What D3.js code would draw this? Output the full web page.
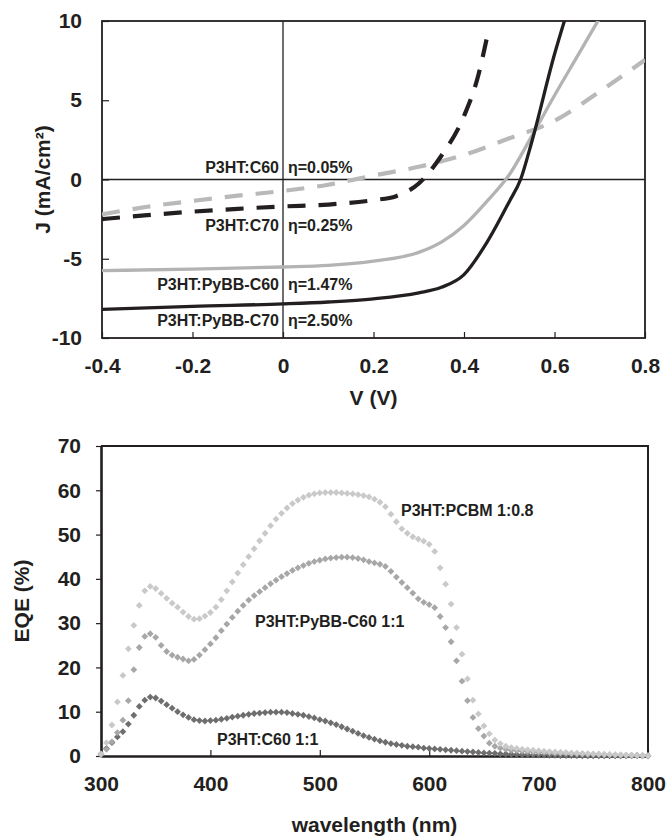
<!DOCTYPE html>
<html>
<head>
<meta charset="utf-8">
<script src="https://cdn.jsdelivr.net/npm/d3@7"></script>
<style>
  html, body { margin: 0; padding: 0; background: #fff; }
  svg text { font-family: "Liberation Sans", Arial, Helvetica, sans-serif; font-weight: bold; fill: #231f20; }
</style>
</head>
<body>
<svg id="fig" width="669" height="838"></svg>
<script>
// ---------- J–V curves (V in volts, J in mA/cm²) ----------
const vC60      = [-0.4, -0.3, -0.2, -0.1, 0, 0.1, 0.2, 0.3, 0.4, 0.5, 0.6, 0.7, 0.8];
const jC60      = [-2.2, -1.72, -1.35, -1.02, -0.72, -0.33, 0.25, 0.8, 1.55, 2.6, 3.7, 5.55, 7.55];

const vC70      = [-0.4, -0.3, -0.2, -0.1, 0, 0.1, 0.2, 0.25, 0.3, 0.35, 0.4, 0.43, 0.454];
const jC70      = [-2.5, -2.25, -2.03, -1.85, -1.7, -1.58, -1.3, -1.05, -0.25, 1.5, 4.0, 6.4, 9.4];

const vPyBBC60  = [-0.4, -0.2, 0, 0.1, 0.2, 0.3, 0.35, 0.4, 0.45, 0.5, 0.55, 0.6, 0.65, 0.7];
const jPyBBC60  = [-5.75, -5.65, -5.52, -5.42, -5.15, -4.6, -3.95, -2.9, -1.4, 0.3, 2.75, 5.3, 7.75, 10.2];

const vPyBBC70  = [-0.4, -0.2, 0, 0.1, 0.2, 0.3, 0.35, 0.4, 0.45, 0.5, 0.525, 0.55, 0.6, 0.625];
const jPyBBC70  = [-8.2, -8.0, -7.85, -7.73, -7.53, -7.15, -6.8, -6.0, -4.0, -1.4, 0.0, 2.4, 7.9, 10.3];

const jvLabels  = ["P3HT:C60", "P3HT:C70", "P3HT:PyBB-C60", "P3HT:PyBB-C70"];
const jvEta     = ["η=0.05%", "η=0.25%", "η=1.47%", "η=2.50%"];

const vTicks    = [-0.4, -0.2, 0, 0.2, 0.4, 0.6, 0.8];
const jTicks    = [-10, -5, 0, 5, 10];

// ---------- EQE spectra (wavelength in nm, EQE in %) ----------
const wavelength = [
  300,305,310,315,320,325,330,335,340,345,
  350,355,360,365,370,375,380,385,390,395,
  400,405,410,415,420,425,430,435,440,445,
  450,455,460,465,470,475,480,485,490,495,
  500,505,510,515,520,525,530,535,540,545,
  550,555,560,565,570,575,580,585,590,595,
  600,605,610,615,620,625,630,635,640,645,
  650,655,660,665,670,675,680,685,690,695,
  700,705,710,715,720,725,730,735,740,745,
  750,755,760,765,770,775,780,785,790,795,800
];

const eqePCBM = [
  0.5, 3.0, 7.0, 12.2, 18.2, 24.2, 29.5, 34.0, 37.3, 38.3,
  37.8, 36.7, 35.6, 34.5, 33.6, 32.5, 31.5, 30.9, 31.0, 31.6,
  32.4, 33.6, 35.3, 37.3, 39.3, 41.3, 43.2, 45.0, 46.8, 48.6,
  50.3, 52.0, 53.5, 54.8, 56.0, 57.0, 57.8, 58.4, 58.9, 59.2,
  59.4, 59.5, 59.5, 59.5, 59.4, 59.3, 59.2, 59.0, 58.8, 58.5,
  58.0, 57.3, 56.3, 54.6, 52.9, 51.3, 50.3, 49.5, 49.0, 48.5,
  47.8, 46.2, 42.5, 38.8, 34.3, 29.0, 23.0, 17.4, 12.6, 9.5,
  6.8, 5.0, 3.6, 2.8, 2.2, 1.9, 1.7, 1.55, 1.4, 1.3,
  1.2, 1.1, 1.0, 0.9, 0.85, 0.8, 0.7, 0.65, 0.6, 0.55,
  0.5, 0.45, 0.4, 0.35, 0.3, 0.25, 0.2, 0.15, 0.1, 0.1, 0.05
];

const eqePyBBC60 = [
  0.3, 1.5, 3.2, 5.3, 8.1, 12.5, 19.5, 24.5, 27.0, 27.6,
  26.8, 25.0, 23.6, 22.8, 22.3, 21.9, 21.5, 21.8, 22.8, 24.0,
  25.3, 26.7, 28.3, 29.8, 31.3, 32.7, 34.0, 35.2, 36.2, 37.1,
  38.0, 38.9, 39.7, 40.5, 41.2, 41.9, 42.5, 43.0, 43.5, 43.9,
  44.2, 44.5, 44.7, 44.8, 44.9, 44.9, 44.8, 44.6, 44.3, 43.9,
  43.6, 43.3, 42.8, 41.7, 40.4, 39.2, 38.0, 36.8, 35.5, 34.7,
  34.2, 33.5, 31.5, 29.0, 25.8, 21.5, 16.9, 12.5, 8.7, 6.2,
  4.5, 2.9, 2.2, 1.8, 1.5, 1.3, 1.2, 1.1, 1.0, 0.9,
  0.85, 0.8, 0.75, 0.7, 0.65, 0.6, 0.55, 0.5, 0.45, 0.4,
  0.38, 0.35, 0.32, 0.3, 0.27, 0.25, 0.22, 0.2, 0.18, 0.15, 0.12
];

const eqeC60 = [
  0.5, 1.7, 3.0, 4.3, 5.5, 7.2, 9.2, 11.2, 12.6, 13.3,
  13.1, 12.4, 11.6, 10.8, 10.0, 9.3, 8.7, 8.2, 8.0, 7.9,
  8.0, 8.1, 8.3, 8.5, 8.8, 9.0, 9.2, 9.4, 9.6, 9.7,
  9.8, 9.9, 9.9, 9.9, 9.8, 9.6, 9.4, 9.2, 8.9, 8.6,
  8.2, 7.9, 7.5, 7.1, 6.6, 6.1, 5.6, 5.1, 4.6, 4.2,
  3.8, 3.4, 3.1, 2.8, 2.6, 2.4, 2.2, 2.1, 2.0, 1.8,
  1.7, 1.6, 1.5, 1.4, 1.3, 1.2, 1.1, 1.0, 0.9, 0.8,
  0.7, 0.65, 0.6, 0.5, 0.45, 0.4, 0.35, 0.3, 0.3, 0.25,
  0.2, 0.2, 0.15, 0.15, 0.1, 0.1, 0.1, 0.08, 0.06, 0.05,
  0.05, 0.04, 0.03, 0.03, 0.02, 0.02, 0.02, 0.01, 0.01, 0.01, 0.0
];

const eqeLabels  = ["P3HT:PCBM 1:0.8", "P3HT:PyBB-C60 1:1", "P3HT:C60 1:1"];
const nmTicks    = [300, 400, 500, 600, 700, 800];
const eqeTicks   = [0, 10, 20, 30, 40, 50, 60, 70];

// ---------- shared drawing setup ----------
const svg = d3.select("#fig");
const INK = "#231f20";
const TICK_FONT = 21;
const NOTE_FONT = 16;

// ================= J–V panel =================
const xV = d3.scaleLinear().domain([-0.4, 0.8]).range([102, 645]);
const yJ = d3.scaleLinear().domain([-10, 10]).range([338, 21]);

const jvPanel = svg.append("g");

jvPanel.append("clipPath").attr("id", "jvClip")
  .append("rect")
  .attr("x", xV(-0.4)).attr("y", yJ(10))
  .attr("width", xV(0.8) - xV(-0.4)).attr("height", yJ(-10) - yJ(10));

// axes through the origin
jvPanel.append("line")
  .attr("x1", xV(0)).attr("x2", xV(0)).attr("y1", yJ(10)).attr("y2", yJ(-10))
  .attr("stroke", INK).attr("stroke-width", 1.3);
jvPanel.append("line")
  .attr("x1", xV(-0.4)).attr("x2", xV(0.8)).attr("y1", yJ(0)).attr("y2", yJ(0))
  .attr("stroke", INK).attr("stroke-width", 1.3);

// y axis: ticks point inward
const yAxisJ = jvPanel.append("g")
  .attr("transform", `translate(${xV(-0.4)},0)`)
  .call(d3.axisLeft(yJ).tickValues(jTicks).tickSizeInner(-7).tickSizeOuter(0)
        .tickPadding(20).tickFormat(d => String(d)));
// x axis: ticks point inward
const xAxisV = jvPanel.append("g")
  .attr("transform", `translate(0,${yJ(-10)})`)
  .call(d3.axisBottom(xV).tickValues(vTicks).tickSizeInner(-6).tickSizeOuter(0)
        .tickPadding(20).tickFormat(d => d === 0 ? "0" : d.toFixed(1)));
[yAxisJ, xAxisV].forEach(g => {
  g.select(".domain").remove();
  g.selectAll(".tick line").attr("stroke", INK).attr("stroke-width", 1.2);
  g.selectAll(".tick text").attr("font-size", TICK_FONT).attr("fill", INK);
});

// frame
jvPanel.append("rect")
  .attr("x", xV(-0.4)).attr("y", yJ(10))
  .attr("width", xV(0.8) - xV(-0.4)).attr("height", yJ(-10) - yJ(10))
  .attr("fill", "none").attr("stroke", INK).attr("stroke-width", 1.8);

const jvLine = d3.line().x(d => xV(d[0])).y(d => yJ(d[1])).curve(d3.curveMonotoneX);
const jvSeries = [
  { v: vC60,     j: jC60,     color: "#b9b9b9", width: 4.2, dash: "18,13" },
  { v: vC70,     j: jC70,     color: INK,       width: 4.2, dash: "18,13" },
  { v: vPyBBC60, j: jPyBBC60, color: "#b3b3b3", width: 3.3, dash: null },
  { v: vPyBBC70, j: jPyBBC70, color: INK,       width: 3.3, dash: null }
];
const curves = jvPanel.append("g").attr("clip-path", "url(#jvClip)");
jvSeries.forEach(s => {
  curves.append("path")
    .datum(d3.zip(s.v, s.j))
    .attr("d", jvLine)
    .attr("fill", "none")
    .attr("stroke", s.color)
    .attr("stroke-width", s.width)
    .attr("stroke-dasharray", s.dash)
    .attr("stroke-linecap", "butt");
});

// device labels left of the V=0 line, efficiencies to the right
const jvLabelY = [173, 230.5, 290, 325.5];
jvLabels.forEach((t, i) => {
  jvPanel.append("text").attr("x", xV(0) - 4).attr("y", jvLabelY[i])
    .attr("text-anchor", "end").attr("font-size", NOTE_FONT).text(t);
  jvPanel.append("text").attr("x", xV(0) + 5).attr("y", jvLabelY[i])
    .attr("text-anchor", "start").attr("font-size", NOTE_FONT).text(jvEta[i]);
});

// axis titles
jvPanel.append("text")
  .attr("transform", `translate(50,${(yJ(10) + yJ(-10)) / 2}) rotate(-90)`)
  .attr("text-anchor", "middle").attr("font-size", TICK_FONT)
  .text("J (mA/cm²)");
jvPanel.append("text")
  .attr("x", (xV(-0.4) + xV(0.8)) / 2).attr("y", 405)
  .attr("text-anchor", "middle").attr("font-size", TICK_FONT)
  .text("V (V)");

// ================= EQE panel =================
const xNm = d3.scaleLinear().domain([300, 800]).range([101, 648]);
const yEqe = d3.scaleLinear().domain([0, 70]).range([756, 446]);

const eqePanel = svg.append("g");

// top and right frame
eqePanel.append("path")
  .attr("d", `M${xNm(300)},${yEqe(70)}H${xNm(800)}V${yEqe(0)}`)
  .attr("fill", "none").attr("stroke", INK).attr("stroke-width", 2);

const yAxisE = eqePanel.append("g")
  .attr("transform", `translate(${xNm(300)},0)`)
  .call(d3.axisLeft(yEqe).tickValues(eqeTicks).tickSizeInner(5).tickSizeOuter(0)
        .tickPadding(15).tickFormat(d => String(d)));
const xAxisE = eqePanel.append("g")
  .attr("transform", `translate(0,${yEqe(0)})`)
  .call(d3.axisBottom(xNm).tickValues(nmTicks).tickSizeInner(-6).tickSizeOuter(0)
        .tickPadding(20).tickFormat(d => String(d)));
[yAxisE, xAxisE].forEach(g => {
  g.select(".domain").attr("stroke", INK).attr("stroke-width", 2.6);
  g.selectAll(".tick line").attr("stroke", INK).attr("stroke-width", 1.2);
  g.selectAll(".tick text").attr("font-size", TICK_FONT).attr("fill", INK);
});

// diamond markers
const diamond = r => `M0,${-r}L${r},0L0,${r}L${-r},0Z`;
const eqeSeries = [
  { values: eqeC60,     color: "#6e6e6e" },
  { values: eqePyBBC60, color: "#a7a7a7" },
  { values: eqePCBM,    color: "#c9c9c9" }
];
eqeSeries.forEach(s => {
  eqePanel.append("g").selectAll("path")
    .data(d3.zip(wavelength, s.values))
    .join("path")
    .attr("transform", d => `translate(${xNm(d[0])},${yEqe(d[1])})`)
    .attr("d", diamond(3.4))
    .attr("fill", s.color);
});

// series labels
const eqeLabelPos = [[401, 516], [255, 627], [217, 745]];
eqeLabels.forEach((t, i) => {
  eqePanel.append("text").attr("x", eqeLabelPos[i][0]).attr("y", eqeLabelPos[i][1])
    .attr("font-size", NOTE_FONT).text(t);
});

// axis titles
eqePanel.append("text")
  .attr("transform", `translate(29,${(yEqe(0) + yEqe(70)) / 2}) rotate(-90)`)
  .attr("text-anchor", "middle").attr("font-size", TICK_FONT)
  .text("EQE (%)");
eqePanel.append("text")
  .attr("x", (xNm(300) + xNm(800)) / 2).attr("y", 832)
  .attr("text-anchor", "middle").attr("font-size", TICK_FONT)
  .text("wavelength (nm)");
</script>
</body>
</html>
